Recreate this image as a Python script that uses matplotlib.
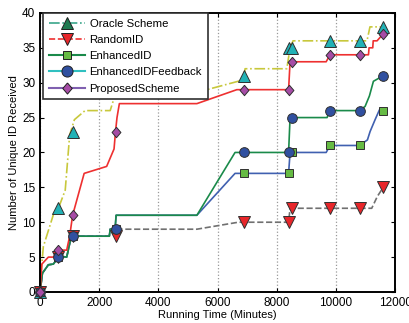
import matplotlib
matplotlib.use("Agg")
import matplotlib.pyplot as plt
from matplotlib.lines import Line2D

plt.rcParams["font.family"] = ["Liberation Sans", "DejaVu Sans"]

# continuous curves (line colours differ from marker colours in the source figure)
oracle_x = [0, 40, 110, 480, 620, 850, 1000, 1160, 1520, 2370, 2480, 2550, 5500, 5640, 6870, 6930, 8340, 8450, 8550, 11050, 11150, 11600]
oracle_y = [0, 3, 6.5, 11.5, 12, 14.6, 22.5, 24.7, 26, 26, 27.5, 29, 29, 29, 30.4, 32, 32, 35, 36, 36, 38, 38]

random_x = [0, 80, 280, 450, 620, 730, 900, 1050, 1100, 2340, 2370, 2535, 5300, 6700, 8400, 8450, 8500, 11210, 11400, 11600]
random_y = [0, 2.7, 3.9, 4, 5, 5.1, 5, 7.9, 8, 8, 9, 9, 9, 10, 10, 12, 12, 12, 13.7, 15]

enh_x = [0, 80, 280, 450, 620, 730, 900, 1050, 1100, 2340, 2370, 2535, 2570, 5300, 6590, 8400, 8450, 9670, 9800, 10800, 11065, 11155, 11324, 11470, 11600]
enh_y = [0, 2.7, 3.9, 4, 5, 5.1, 5, 7.9, 8, 8, 9, 9, 11, 11, 17, 17, 20, 20, 21, 21, 21.8, 23, 24.7, 26.1, 26]

fb_x = [0, 80, 280, 450, 620, 730, 900, 1050, 1100, 2340, 2370, 2535, 2570, 5300, 6590, 8400, 8450, 9700, 9800, 10800, 10986, 11132, 11267, 11600]
fb_y = [0, 2.7, 3.9, 4, 5, 5.1, 5, 7.9, 8, 8, 9, 9, 11, 11, 20, 20, 25, 25, 26, 26, 26.6, 28.1, 30.2, 31]

prop_x = [0, 60, 280, 450, 620, 900, 1000, 1100, 1490, 2250, 2500, 2550, 2600, 2680, 5300, 6650, 8400, 8450, 9670, 9800, 11100, 11120, 11245, 11260, 11390, 11600]
prop_y = [0, 4, 5, 5, 6, 6, 8, 11, 17, 18, 20.5, 23, 25, 27, 27, 29, 29, 33, 33, 34, 34, 35, 35, 36, 36, 37]

# sampled points shown with markers
t_mark = [0, 620, 1100, 2550, 6900, 8400, 8500, 9800, 10800, 11600]
oracle_m = [0, 12, 23, 29, 31, 35, 35, 36, 36, 38]
random_m = [0, 5, 8, 8, 10, 10, 12, 12, 12, 15]
enh_m = [0, 5, 8, 9, 17, 17, 20, 21, 21, 26]
fb_m = [0, 5, 8, 9, 20, 20, 25, 26, 26, 31]
prop_m = [0, 6, 11, 23, 29, 29, 33, 34, 34, 37]

labels = ["Oracle Scheme", "RandomID", "EnhancedID", "EnhancedIDFeedback", "ProposedScheme"]

diamond = [(0, 1), (0.85, 0), (0, -1), (-0.85, 0), (0, 1)]

fig = plt.figure(figsize=(4.09, 3.23), dpi=100)
ax = fig.add_axes([0.098, 0.096, 0.868, 0.864])

ax.plot(oracle_x, oracle_y, color="#c8c83c", ls="-.", lw=1.2, zorder=2)
ax.plot(random_x, random_y, color="#707070", ls="--", lw=1.2, zorder=2)
ax.plot(enh_x, enh_y, color="#4060b0", lw=1.2, zorder=2)
ax.plot(fb_x, fb_y, color="#1a8a4a", lw=1.2, zorder=2)
ax.plot(prop_x, prop_y, color="#ee3030", lw=1.2, zorder=2)

mk = dict(ls="none", mec="#303030", mew=0.7, clip_on=False, zorder=4)
ax.plot(t_mark, oracle_m, marker="^", ms=8, mfc="#22b2b6", **mk)
ax.plot(t_mark, random_m, marker="v", ms=8, mfc="#e8262a", **mk)
ax.plot(t_mark, enh_m, marker="s", ms=5.5, mfc="#66bb44", **mk)
ax.plot(t_mark, fb_m, marker="o", ms=7, mfc="#3050a0", **mk)
ax.plot(t_mark, prop_m, marker=diamond, ms=7.5, mfc="#a64ca6", **mk)

ax.set_xlim(0, 12000)
ax.set_ylim(0, 40)
ax.set_xticks(range(0, 12001, 2000))
ax.set_yticks(range(0, 41, 5))
ax.grid(axis="x", ls=":", color="#999999", lw=0.9)
ax.tick_params(direction="in", top=True, right=True, labelsize=8.5, length=3, width=0.8)
for s in ax.spines.values():
    s.set_linewidth(1.4)
ax.set_xlabel("Running Time (Minutes)", fontsize=8, labelpad=1)
ax.set_ylabel("Number of Unique ID Received", fontsize=8, labelpad=2)

handles = [
    Line2D([], [], color="#3aa58a", ls="-.", lw=1.2, marker="^", ms=8, mfc="#1f7a50", mec="#202020", mew=0.7),
    Line2D([], [], color="#ee3030", ls="--", lw=1.2, marker="v", ms=8, mfc="#e8262a", mec="#202020", mew=0.7),
    Line2D([], [], color="#1a8a4a", lw=1.5, marker="s", ms=6, mfc="#66bb44", mec="#202020", mew=0.7),
    Line2D([], [], color="#30c0c0", lw=1.5, marker="o", ms=8, mfc="#3050a0", mec="#202020", mew=0.7),
    Line2D([], [], color="#8060b0", lw=1.5, marker=diamond, ms=8, mfc="#a64ca6", mec="#202020", mew=0.7),
]
leg = ax.legend(handles, labels, loc="upper left", bbox_to_anchor=(0.008, 1.0), borderaxespad=0,
                fontsize=8.2, handlelength=3.2, handletextpad=0.4, labelspacing=0.55,
                borderpad=0.5, fancybox=False, framealpha=1, edgecolor="#303030")
leg.get_frame().set_linewidth(1.2)
leg.set_zorder(5)

fig.savefig("out.png", dpi=100)
